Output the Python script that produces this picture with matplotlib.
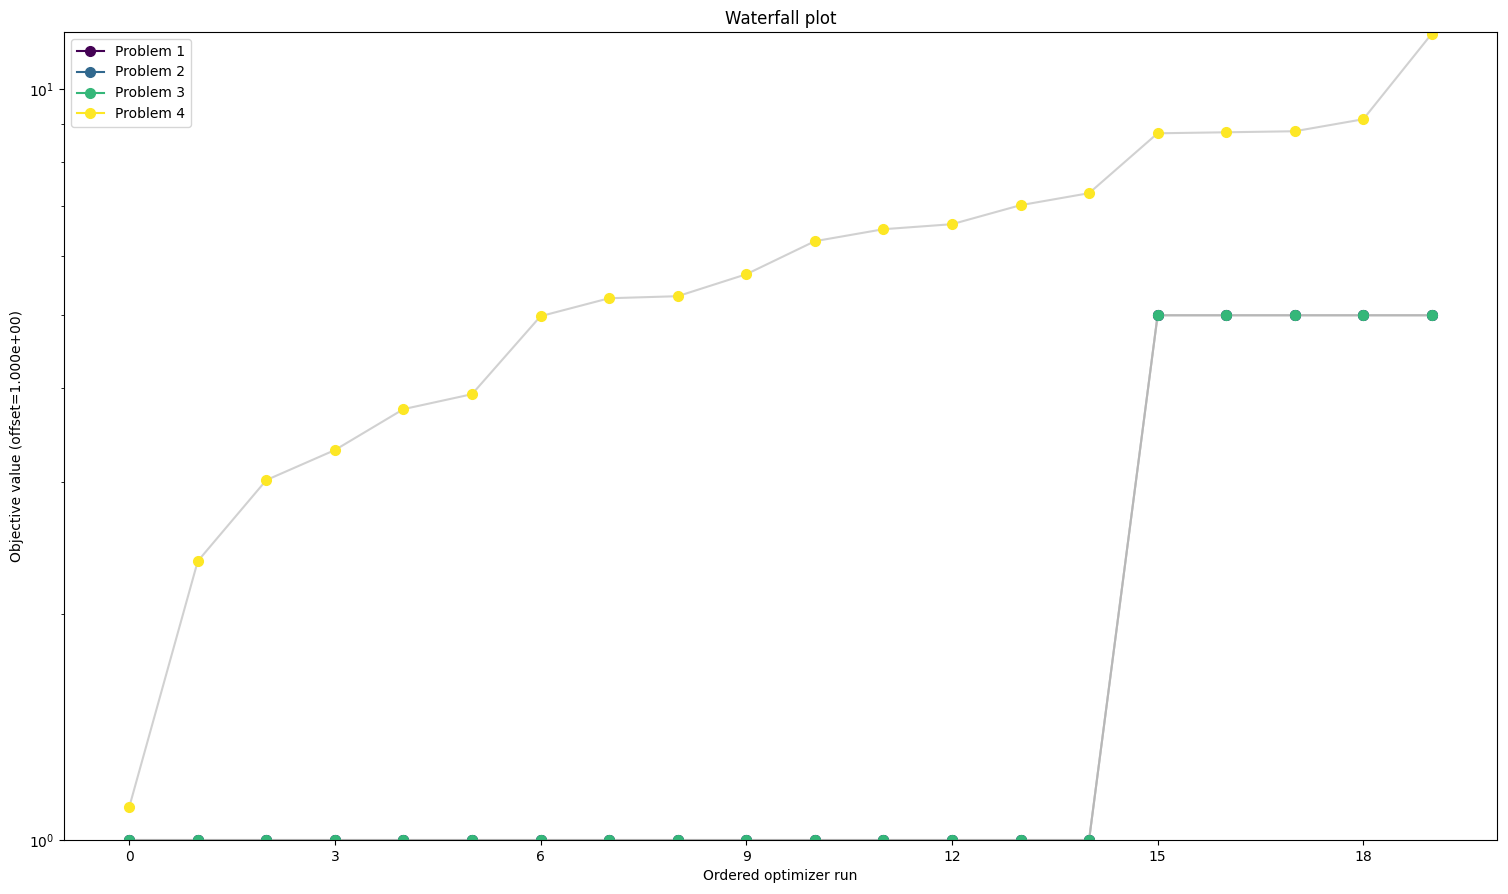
import matplotlib
matplotlib.use('Agg')
import matplotlib.pyplot as plt
from matplotlib.lines import Line2D
from matplotlib.ticker import NullFormatter
import numpy as np

# objective values per problem (already including offset), sorted
runs = np.arange(20)
problem_1 = [1.0] * 15 + [5.0] * 5
problem_2 = [1.0] * 15 + [5.0] * 5
problem_3 = [1.0] * 15 + [5.0] * 5
problem_4 = [1.106, 2.352, 3.016, 3.307, 3.749, 3.925, 4.986, 5.268, 5.301, 5.670,
             6.275, 6.510, 6.611, 7.008, 7.271, 8.737, 8.764, 8.792, 9.122, 11.86]
labels = ['Problem 1', 'Problem 2', 'Problem 3', 'Problem 4']
offset = 1.0

series = [problem_1, problem_2, problem_3, problem_4]
colors = plt.cm.viridis(np.linspace(0, 1, len(series)))

fig, ax = plt.subplots(figsize=(15.08, 8.94), dpi=100)
fig.subplots_adjust(left=0.0425, right=0.9927, top=0.9642, bottom=0.0604)

handles = []
for vals, col, lab in zip(series, colors, labels):
    ax.plot(runs, vals, color=(0.7, 0.7, 0.7, 0.6), lw=1.5, zorder=1)
    ax.plot(runs, vals, 'o', color=col, ms=7, ls='none', zorder=2)
    handles.append(Line2D([], [], color=col, marker='o', ms=7, lw=1.5, label=lab))

ax.set_yscale('log')
ax.set_ylim(1.0, 11.92)
ax.yaxis.set_minor_formatter(NullFormatter())
ax.set_xticks([0, 3, 6, 9, 12, 15, 18])

ax.set_title('Waterfall plot')
ax.set_xlabel('Ordered optimizer run')
ax.set_ylabel('Objective value (offset=%.3e)' % offset)
ax.legend(handles=handles, loc='upper left')

fig.savefig('out.png', dpi=100)
